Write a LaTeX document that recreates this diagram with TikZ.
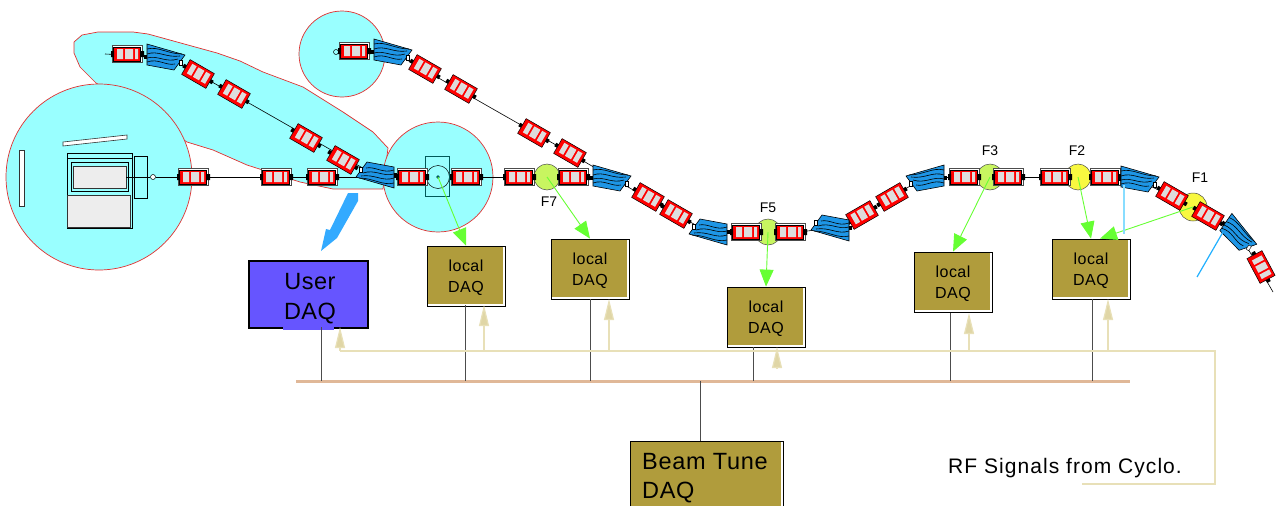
\documentclass[tikz,border=0pt]{standalone}
\usepackage{fontspec}
\setmainfont{Liberation Sans}
\usetikzlibrary{arrows.meta}
\definecolor{roomcyan}{HTML}{99FFFF}
\definecolor{roomred}{HTML}{E03030}
\definecolor{daqgold}{HTML}{B09C3C}
\definecolor{userblue}{HTML}{6655FF}
\definecolor{bendblue}{HTML}{1E96E6}
\definecolor{quadgray}{HTML}{DDDDDD}
\definecolor{sigcream}{HTML}{E8E0B8}
\definecolor{tipcream}{HTML}{E0D6A6}
\definecolor{bustan}{HTML}{E0B898}
\definecolor{sigreen}{HTML}{66FF33}
\definecolor{focusgreen}{HTML}{C8F560}
\definecolor{focusyellow}{HTML}{F8F840}
\definecolor{markblue}{HTML}{33AAFF}
\definecolor{markpale}{HTML}{88DDFF}
\definecolor{markdeep}{HTML}{22B0FF}
\newcommand{\localtext}{\raisebox{-2pt}[\height][\depth]{local}\\\raisebox{-2pt}[\height][\depth]{DAQ}}
\tikzset{
  room/.style={draw=roomred,fill=roomcyan,line width=0.7pt},
  focus/.style={circle,draw=black!70,line width=0.5pt,minimum size=26pt,inner sep=0pt},
  flabel/.style={font=\fontsize{14}{14}\selectfont,inner sep=0pt},
  localdaq/.style={rectangle,draw=black,line width=0.8pt,fill=daqgold,minimum width=78pt,minimum height=60pt,
    align=center,inner sep=0pt,font=\fontsize{16}{21}\selectfont\addfontfeature{LetterSpace=3},
    path picture={\fill[white] ([xshift=-2.5pt]path picture bounding box.north east) rectangle (path picture bounding box.south east);
      \fill[white] (path picture bounding box.south west) rectangle ([yshift=2.5pt]path picture bounding box.south east);}},
  bigtext/.style={anchor=west,inner sep=0pt,font=\fontsize{23.5}{24}\selectfont\addfontfeature{LetterSpace=3}},
  sigarrow/.style={draw=sigreen,line width=0.9pt,-{Triangle[width=14pt,length=17pt,fill=sigreen]}},
  rfarrow/.style={draw=sigcream,line width=1.2pt,-{Triangle[width=10pt,length=21pt,fill=tipcream]}},
  busdrop/.style={draw=black!70,line width=0.8pt},
  quad/.pic={
    \draw[black!70,line width=0.5pt,fill=white] (-15,-8.5) rectangle (15,8.5);
    \draw[fill=red,line width=0.4pt] (-14,-7) rectangle (13,7);
    \fill[quadgray] (-10,-5) rectangle (-4,5) (-2,-5) rectangle (6,5) (8,-5) rectangle (11,5);
    \fill[black] (-16,-3) rectangle (-13,3) (13,-3) rectangle (17,3);
  },
  tiltquad/.pic={
    \draw[fill=red,line width=0.5pt] (-14,-8.5) rectangle (14,8.5);
    \fill[quadgray] (-10,-6) rectangle (-5,5) (-3,-6) rectangle (4,5) (6,-6) rectangle (11,5);
    \fill[black] (-17,-2) rectangle (-14,2) (14,-2) rectangle (17,2);
  },
  bend/.pic={
    \draw[fill=bendblue,line width=0.6pt] (-19,-13) -- (19,-2) -- (8,13) -- (-19,8) -- cycle;
    \draw[line width=0.6pt] (-19,-8) .. controls (-8,-11) and (2,-3) .. (16,-3);
    \draw[line width=0.6pt] (-19,-3) .. controls (-8,-7) and (0,1) .. (14,-1);
    \draw[line width=0.6pt] (-19,1) .. controls (-8,-2) and (0,6) .. (12,2);
    \draw[line width=0.6pt] (-19,5) .. controls (-8,1) and (0,9) .. (9,7);
    \draw[line width=0.4pt,fill=white] (13,3) rectangle (16,8);
    \fill[black] (-22,-2) rectangle (-19,2);
  },
}
\begin{document}
\begin{tikzpicture}[x=1pt,y=-1pt]
\useasboundingbox (0,0) rectangle (1276,506);
% ---- row y-coordinates ----
\def\yline{177}   % straight beam line
\def\yfive{232}   % dip at F5
\def\ybus{381}    % readout bus
\def\yrf{351}     % RF signal line

% ---- cyan rooms ----
\draw[room] (96,83) -- (80,67) -- (74,53) -- (74,42) -- (82,35) -- (98,32) -- (133,32) -- (148,34)
  -- (217,53) -- (240,61) -- (263,72) -- (303,87) -- (343,112) -- (373,132) -- (388,148) -- (383,189)
  -- (333,189) -- (300,182) -- (247,165) -- (213,150) -- (187,142) -- cycle;
\draw[room] (99,177) circle (93);
\draw[room] (342,54) circle (43);
\draw[room] (438,177) circle (55);

% ---- target station ----
\draw[black!80,line width=0.6pt,fill=white] (19,150) rectangle (24,206);
\draw[black!80,line width=0.6pt,fill=white] (63,142) -- (127,135) -- (127,139) -- (63,146) -- cycle;
\draw[black,line width=0.7pt,fill=roomcyan] (67,153) rectangle (132,228);
\draw[black,line width=0.7pt] (67,158) -- (132,158);
\draw[black,line width=0.7pt] (71,162) rectangle (128,191);
\draw[black!80,line width=0.5pt,fill=black!7] (73,166) rectangle (126,188);
\draw[black!80,line width=0.5pt,fill=black!7] (67,195) rectangle (130,227);
\draw[black,line width=0.7pt,fill=roomcyan] (134,156) rectangle (147,198);
\draw[black,line width=0.5pt] (126,177) -- (150,177);
\draw[black,line width=0.5pt,fill=white] (153,177) circle (2.5);

% ---- beam lines ----
\draw[black,line width=0.6pt] (156,\yline) -- (612,\yline);
\draw[black,line width=0.6pt] (925,\yline) -- (1130,\yline);
\draw[black,line width=0.6pt] (105,54) -- (166,57) -- (198,74) -- (375,175);
\draw[black,line width=0.6pt] (339,52) -- (393,52) -- (570,153) -- (612,178) -- (708,232)
  -- (800,\yfive) -- (830,228) -- (862,215) -- (892,197) -- (925,\yline);
\draw[black,line width=0.6pt] (1130,\yline) -- (1172,196) -- (1240,235) -- (1273,292);
\draw[black,line width=0.5pt] (336,52) circle (2.5);

% ---- focal circles (under the magnets) ----
\node[focus,fill=roomcyan,draw=black,minimum size=23pt] (F8) at (438,\yline) {};
\draw[teal!70!black,line width=0.7pt] (425,156) rectangle (449,196);
\fill[teal!70!black] (F8.center) circle (1.8);
\node[focus,fill=focusgreen] (F7) at (547,\yline) {};
\node[focus,fill=focusgreen] (F5) at (768,\yfive) {};
\node[focus,fill=focusgreen] (F3) at (990,\yline) {};
\node[focus,fill=focusyellow] (F2) at (1078,\yline) {};
\node[focus,fill=focusyellow,minimum size=28pt] (F1) at (1193,207) {};

% ---- quadrupoles, straight ----
\pic at (193,\yline) {quad};
\pic at (276,\yline) {quad};
\pic at (322,\yline) {quad};
\pic at (412,\yline) {quad};
\pic at (466,\yline) {quad};
\pic at (519,\yline) {quad};
\pic at (573,\yline) {quad};
\pic at (746,\yfive) {quad};
\pic at (790,\yfive) {quad};
\pic at (964,\yline) {quad};
\pic at (1008,\yline) {quad};
\pic at (1055,\yline) {quad};
\pic at (1105,\yline) {quad};
\pic at (127,54) {quad};
\pic at (354,51) {quad};

% ---- quadrupoles, tilted ----
\pic[rotate=-30] at (198,74) {tiltquad};
\pic[rotate=-30] at (234,94) {tiltquad};
\pic[rotate=-30] at (306,138) {tiltquad};
\pic[rotate=-30] at (343,160) {tiltquad};
\pic[rotate=-30] at (425,69) {tiltquad};
\pic[rotate=-30] at (461,89) {tiltquad};
\pic[rotate=-30] at (534,133) {tiltquad};
\pic[rotate=-30] at (570,153) {tiltquad};
\pic[rotate=-30] at (648,197) {tiltquad};
\pic[rotate=-30] at (676,214) {tiltquad};
\pic[rotate=30] at (862,215) {tiltquad};
\pic[rotate=30] at (892,197) {tiltquad};
\pic[rotate=-30] at (1172,196) {tiltquad};
\pic[rotate=-30] at (1208,216) {tiltquad};
\pic[rotate=-62] at (1261,267) {tiltquad};

% ---- bending magnets ----
\pic at (166,57) {bend};
\pic at (393,52) {bend};
\pic[rotate=180] at (375,175) {bend};
\pic at (612,178) {bend};
\pic[rotate=180] at (708,232) {bend};
\pic[xscale=-1,yscale=-1] at (830,228) {bend};
\pic[xscale=-1] at (925,178) {bend};
\pic at (1140,179) {bend};
\pic[rotate=-35] at (1240,235) {bend};

% ---- focus labels ----
\node[flabel] (lF7) at (549,202) {F7};
\node[flabel] (lF5) at (768,208) {F5};
\node[flabel] (lF3) at (990,151) {F3};
\node[flabel] (lF2) at (1077,151) {F2};
\node[flabel] (lF1) at (1200,178) {F1};

% ---- DAQ boxes ----
\node[localdaq] (D1) at (466,276) {\localtext};
\node[localdaq] (D2) at (590,269) {\localtext};
\node[localdaq] (D3) at (766,317) {\localtext};
\node[localdaq] (D4) at (953,282) {\localtext};
\node[localdaq] (D5) at (1091,269) {\localtext};
\node[draw=black,line width=1.5pt,fill=userblue,minimum width=119pt,minimum height=67pt,inner sep=0pt] (UD) at (308.5,294.5) {};
\fill[userblue] (283,326) rectangle (334,330);
\node[inner sep=0pt,align=center,font=\fontsize{23.5}{30}\selectfont\addfontfeature{LetterSpace=2}] (UT) at (310,299) {User\\DAQ};
\fill[daqgold] (630,441) rectangle (781,506);
\draw[black,line width=0.8pt] (630,506) -- (630,441) -- (783,441) -- (783,506);
\node[bigtext] (BT) at (642,462) {Beam Tune};
\node[bigtext] (BD) at (642,493) {DAQ};
\coordinate (BQ) at (700,441);

% ---- readout bus ----
\draw[draw=bustan,line width=3pt] (296,\ybus) -- (1130,\ybus);
\coordinate (B0) at (321,\ybus);
\coordinate (B1) at (465,\ybus);
\coordinate (B2) at (590,\ybus);
\coordinate (B3) at (753,\ybus);
\coordinate (B4) at (950,\ybus);
\coordinate (B5) at (1092,\ybus);
\coordinate (B6) at (700,\ybus);
\draw[busdrop] (321,327) -- (B0);
\draw[busdrop] (465,305) -- (B1);
\draw[busdrop] (590,299) -- (B2);
\draw[busdrop] (753,347) -- (B3);
\draw[busdrop] (950,313) -- (B4);
\draw[busdrop] (1092,299) -- (B5);
\draw[busdrop] (B6) -- (BQ);

% ---- RF signal line ----
\node[anchor=west,inner sep=0pt,font=\fontsize{21}{21}\selectfont\addfontfeature{LetterSpace=5}] (RF) at (948,468) {RF Signals from Cyclo.};
\draw[sigcream,line width=1.2pt] (340,\yrf) -- (1215,\yrf) -- (1215,484) -- (1082,484);
\draw[rfarrow] (340,\yrf) -- (340,327);
\draw[rfarrow] (484,\yrf) -- (484,305);
\draw[rfarrow] (609,\yrf) -- (609,299);
\draw[rfarrow] (777,\yrf+18) -- (777,347);
\draw[rfarrow] (969,\yrf) -- (969,313);
\draw[rfarrow] (1108,\yrf) -- (1108,299);

% ---- green signal arrows ----
\draw[sigarrow] (F8.center) -- (D1.north);
\draw[sigarrow] (F7.center) -- (D2.north);
\draw[sigarrow] (F5.center) -- (D3.north);
\draw[sigarrow] (F3.center) -- (D4.north);
\draw[sigarrow] (F2.center) -- (D5.north);
\draw[sigarrow] (F1.center) -- ([xshift=9pt]D5.north);

% ---- blue marks ----
\fill[markpale] (1123,185) rectangle (1125,234);
\draw[draw=markdeep,line width=1.2pt] (1223,232) -- (1197,277);
\fill[markblue] (348,193) -- (358,193) -- (358,201) -- (337,238) -- (321,251) -- (326,229) -- (330,230) -- cycle;
\end{tikzpicture}
\end{document}
